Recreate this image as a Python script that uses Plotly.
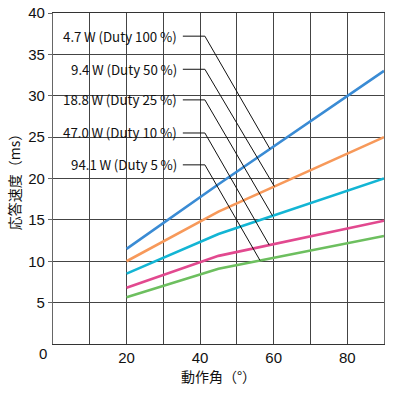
import numpy as np
import plotly.graph_objects as go

# ---- data ----
angles = [20, 45, 90]
s_100 = [11.5, 19.3, 33.0]
s_50 = [10.0, 16.0, 25.0]
s_25 = [8.5, 13.3, 20.0]
s_10 = [6.8, 10.65, 14.9]
s_5 = [5.65, 9.1, 13.05]
series_names = ["4.7\u2009W\u2009(Duty 100\u2009%)", "9.4\u2009W\u2009(Duty 50\u2009%)",
                "18.8\u2009W\u2009(Duty 25\u2009%)", "47.0\u2009W\u2009(Duty 10\u2009%)",
                "94.1\u2009W\u2009(Duty 5\u2009%)"]
series_vals = [s_100, s_50, s_25, s_10, s_5]
colors = ["#3a8bd4", "#f7995a", "#13b5d4", "#e2498f", "#6dbf5f"]

x_tickvals = [10, 20, 30, 40, 50, 60, 70, 80, 90]
x_ticktext = ["", "20", "", "40", "", "60", "", "80", ""]
y_tickvals = [5, 10, 15, 20, 25, 30, 35, 40]

# annotation layout (label text height, leader end angle)
label_y = [37.2, 33.2, 29.5, 25.5, 21.65]
leader_end_x = [59.0, 60.2, 59.7, 58.8, 56.3]
label_x = 33.9
leader_start_x = 35.3
leader_knee_x = 41.3

fig = go.Figure()
for name, vals, c in zip(series_names, series_vals, colors):
    fig.add_trace(go.Scatter(x=angles, y=vals, mode="lines", name=name,
                             line=dict(color=c, width=2.6), showlegend=False))

for name, ly, ex, vals in zip(series_names, label_y, leader_end_x, series_vals):
    ey = float(np.interp(ex, angles, vals))
    fig.add_trace(go.Scatter(x=[leader_start_x, leader_knee_x, ex], y=[ly, ly, ey],
                             mode="lines", line=dict(color="#111", width=1),
                             showlegend=False, hoverinfo="skip"))
    fig.add_annotation(x=label_x, y=ly, xref="x", yref="y", text=name,
                       showarrow=False, xanchor="right", yanchor="middle",
                       font=dict(family="Noto Sans CJK JP", size=13.3, color="#111"),
                       borderpad=0)

fig.add_annotation(x=-0.03, y=-0.03, xref="paper", yref="paper", text="0",
                   showarrow=False, xanchor="center", yanchor="middle",
                   font=dict(family="Liberation Sans", size=15, color="#111"))

fig.update_xaxes(range=[0, 90], tickvals=x_tickvals, ticktext=x_ticktext,
                 showgrid=True, gridcolor="#444", gridwidth=1,
                 showline=True, linecolor="#333", linewidth=1.2, mirror=True,
                 ticks="", zeroline=False, automargin=False,
                 tickfont=dict(family="Liberation Sans", size=15, color="#111"),
                 title=dict(text="動作角（°）", standoff=6,
                            font=dict(family="Noto Sans CJK JP", size=14, color="#111")))
fig.update_yaxes(range=[0, 40], tickvals=y_tickvals,
                 showgrid=True, gridcolor="#444", gridwidth=1,
                 showline=True, linecolor="#666", linewidth=1.2, mirror=True,
                 ticks="outside", ticklen=4, tickcolor="#666", zeroline=False,
                 automargin=False,
                 tickfont=dict(family="Liberation Sans", size=15, color="#111"),
                 title=dict(text="応答速度（ms）", standoff=4,
                            font=dict(family="Noto Sans CJK JP", size=14, color="#111")))

fig.update_layout(width=410, height=396, margin=dict(l=53, r=26, t=13, b=52),
                  plot_bgcolor="white", paper_bgcolor="white")

fig.write_html("out.html", config={"displayModeBar": False},
               post_script="document.body.style.margin='0';")
